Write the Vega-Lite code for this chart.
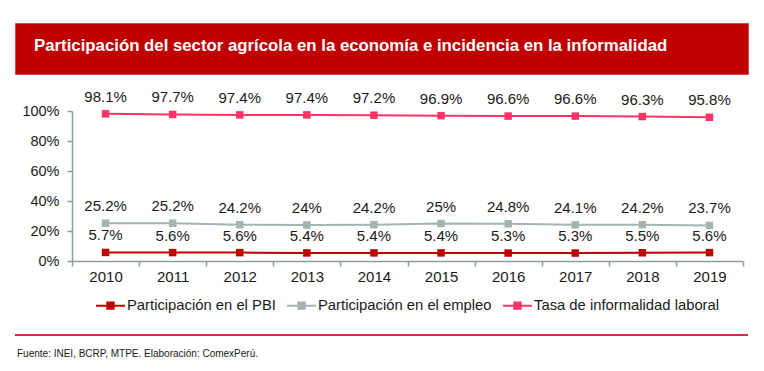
{
  "$schema": "https://vega.github.io/schema/vega-lite/v6.json",
  "background": "white",
  "padding": {"left": 14, "top": 22, "right": 0, "bottom": 0},
  "config": {"font": "Liberation Sans", "view": {"stroke": null}},
  "spacing": 14,
  "resolve": {"legend": {"color": "independent"}, "scale": {"color": "independent"}},
  "vconcat": [
    {
      "width": 733,
      "height": 51,
      "view": {"fill": "#C00000", "stroke": "#D64545", "strokeWidth": 1},
      "title": {
        "text": "Participación del sector agrícola en la economía e incidencia en la informalidad",
        "orient": "top", "anchor": "start", "frame": "group",
        "offset": -40, "dx": 19, "color": "white", "fontSize": 16.8,
        "fontWeight": "bold", "font": "Liberation Sans", "baseline": "middle"
      },
      "data": {"values": [{"t": ""}]},
      "mark": "text",
      "encoding": {"text": {"field": "t"}}
    },
    {
      "width": 728,
      "height": 150,
      "data": {"values": [
        {"year": "2010", "serie": "Participación en el PBI", "value": 0.057},
        {"year": "2011", "serie": "Participación en el PBI", "value": 0.056},
        {"year": "2012", "serie": "Participación en el PBI", "value": 0.056},
        {"year": "2013", "serie": "Participación en el PBI", "value": 0.054},
        {"year": "2014", "serie": "Participación en el PBI", "value": 0.054},
        {"year": "2015", "serie": "Participación en el PBI", "value": 0.054},
        {"year": "2016", "serie": "Participación en el PBI", "value": 0.053},
        {"year": "2017", "serie": "Participación en el PBI", "value": 0.053},
        {"year": "2018", "serie": "Participación en el PBI", "value": 0.055},
        {"year": "2019", "serie": "Participación en el PBI", "value": 0.056},
        {"year": "2010", "serie": "Participación en el empleo", "value": 0.252},
        {"year": "2011", "serie": "Participación en el empleo", "value": 0.252},
        {"year": "2012", "serie": "Participación en el empleo", "value": 0.242},
        {"year": "2013", "serie": "Participación en el empleo", "value": 0.24},
        {"year": "2014", "serie": "Participación en el empleo", "value": 0.242},
        {"year": "2015", "serie": "Participación en el empleo", "value": 0.25},
        {"year": "2016", "serie": "Participación en el empleo", "value": 0.248},
        {"year": "2017", "serie": "Participación en el empleo", "value": 0.241},
        {"year": "2018", "serie": "Participación en el empleo", "value": 0.242},
        {"year": "2019", "serie": "Participación en el empleo", "value": 0.237},
        {"year": "2010", "serie": "Tasa de informalidad laboral", "value": 0.981},
        {"year": "2011", "serie": "Tasa de informalidad laboral", "value": 0.977},
        {"year": "2012", "serie": "Tasa de informalidad laboral", "value": 0.974},
        {"year": "2013", "serie": "Tasa de informalidad laboral", "value": 0.974},
        {"year": "2014", "serie": "Tasa de informalidad laboral", "value": 0.972},
        {"year": "2015", "serie": "Tasa de informalidad laboral", "value": 0.969},
        {"year": "2016", "serie": "Tasa de informalidad laboral", "value": 0.966},
        {"year": "2017", "serie": "Tasa de informalidad laboral", "value": 0.966},
        {"year": "2018", "serie": "Tasa de informalidad laboral", "value": 0.963},
        {"year": "2019", "serie": "Tasa de informalidad laboral", "value": 0.958}
      ]},
      "encoding": {
        "x": {
          "field": "year", "type": "ordinal",
          "scale": {"type": "band", "paddingInner": 0, "paddingOuter": 0, "range": [57, 728]},
          "axis": {
            "title": null, "labelAngle": 0, "tickBand": "extent", "grid": false,
            "domainColor": "#8A9E9E", "tickColor": "#8A9E9E", "domainWidth": 1.5, "tickWidth": 1.5,
            "tickSize": 5, "labelFontSize": 15, "labelFont": "Liberation Sans",
            "labelColor": "#1a1a1a", "labelPadding": 3
          }
        },
        "y": {
          "field": "value", "type": "quantitative",
          "scale": {"domain": [0, 1]},
          "axis": {
            "title": null, "offset": -57,
            "format": "%", "values": [0, 0.2, 0.4, 0.6, 0.8, 1], "grid": false,
            "domainColor": "#8A9E9E", "tickColor": "#8A9E9E", "domainWidth": 1.5, "tickWidth": 1.5,
            "tickSize": 5, "labelFontSize": 14.5, "labelFont": "Liberation Sans",
            "labelColor": "#1a1a1a", "labelPadding": 8
          }
        },
        "color": {
          "field": "serie", "type": "nominal",
          "scale": {
            "domain": ["Participación en el PBI", "Participación en el empleo", "Tasa de informalidad laboral"],
            "range": ["#C00000", "#A3B5B1", "#FF3366"]
          },
          "legend": {
            "title": null, "orient": "none", "direction": "horizontal",
            "legendX": 78, "legendY": 177,
            "symbolType": "M-1,0H1M-0.22,-0.22H0.22V0.22H-0.22Z",
            "symbolSize": 841, "symbolStrokeWidth": 2, "labelLimit": 400,
            "labelFontSize": 14.8, "labelFont": "Liberation Sans", "labelColor": "#1a1a1a",
            "padding": 2, "columnPadding": 7, "labelOffset": 1,
            "encode": {"symbols": {"update": {"fill": {"scale": "color", "field": "value"}}}}
          }
        }
      },
      "layer": [
        {
          "mark": {
            "type": "line", "strokeWidth": 2,
            "point": {"shape": "square", "size": 56, "filled": true, "opacity": 1}
          }
        },
        {
          "mark": {"type": "text", "dy": -17, "fontSize": 15, "font": "Liberation Sans", "baseline": "middle"},
          "encoding": {
            "text": {"field": "value", "type": "quantitative", "format": ".1~%"},
            "color": {"value": "#1a1a1a"}
          }
        }
      ]
    },
    {
      "width": 733,
      "height": 2,
      "view": {"fill": "#E0284A", "stroke": null},
      "title": {
        "text": "Fuente: INEI, BCRP, MTPE. Elaboración: ComexPerú.",
        "orient": "bottom", "anchor": "start", "frame": "group",
        "offset": 9, "dx": 2, "fontSize": 10, "fontWeight": "normal", "color": "#1a1a1a",
        "font": "Liberation Sans"
      },
      "data": {"values": [{"t": ""}]},
      "mark": "text",
      "encoding": {"text": {"field": "t"}}
    }
  ]
}
